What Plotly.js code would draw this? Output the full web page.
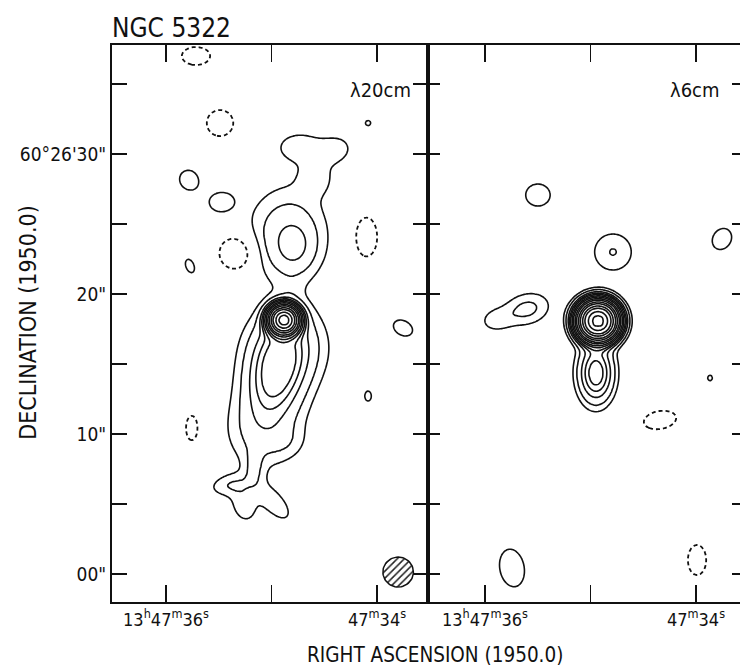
<!DOCTYPE html>
<html>
<head>
<meta charset="utf-8">
<script src="https://cdn.plot.ly/plotly-3.0.1.min.js"></script>
<style>
  html, body { margin: 0; padding: 0; background: #fff; overflow: hidden; }
  #map { width: 760px; height: 668px; }
</style>
</head>
<body>
<div id="map"></div>
<script>
// NGC 5322 radio continuum maps at 20 cm and 6 cm.
// Each map is described by a set of elliptical Gaussian components
// (RA in seconds of 13h47m, Dec in arcsec offset from 60°26'00",
//  sizes in arcsec, position angle in degrees, peak in units of the lowest contour).

const CONTOUR_LEVELS = [1, 2, 4, 6, 8, 12, 16, 24, 32, 48, 64, 96, 128, 192, 256];
const NEGATIVE_LEVEL = 1;

// lambda 20 cm: core, jet, southern tail with its fork, northern lobe with its hook,
// then faint positive and negative patches
const L20_RA   = [34.882, 34.948, 34.995, 35.090, 35.166, 35.393, 35.261, 34.976, 34.863, 34.815, 34.853,
                  34.844, 34.787, 34.730, 34.389, 34.578,
                  35.782, 35.479, 35.773, 33.754, 34.085, 34.085,
                  35.716, 35.488, 35.327, 34.104, 35.754];
const L20_DEC  = [18.14, 14.57, 12.43, 10.14, 7.57, 6.36, 4.93, 5.07, 16.36, 20.29, 9.43,
                  24.20, 23.36, 30.50, 30.29, 28.29,
                  28.14, 26.57, 22.00, 17.57, 32.21, 12.71,
                  37.00, 32.21, 22.93, 24.07, 10.43];
const L20_SMAJ = [0.57, 2.10, 3.00, 1.60, 0.90, 1.05, 0.95, 1.25, 1.80, 0.60, 0.90,
                  2.20, 1.15, 1.30, 0.90, 0.90,
                  0.79, 0.86, 0.55, 0.79, 0.20, 0.39,
                  1.10, 1.03, 1.00, 1.59, 1.03];
const L20_SMIN = [0.57, 1.15, 2.10, 1.50, 0.50, 0.55, 0.65, 0.58, 1.80, 0.50, 0.80,
                  1.80, 0.90, 0.85, 0.75, 0.90,
                  0.71, 0.71, 0.32, 0.57, 0.20, 0.25,
                  0.71, 1.03, 1.00, 0.87, 0.48];
const L20_PA   = [0, 13, 13, 15, 0, 80, -15, -42, 10, 0, 80,
                  0, 0, 90, 70, 0,
                  -30, 80, -20, -60, 0, 0,
                  90, 0, 0, 0, 0];
const L20_PEAK = [150, 9, 1.4, 1.7, 1.6, 1.7, 1.7, 1.7, 3.0, 0.45, 0.7,
                  3.2, 2.4, 1.6, 1.45, 1.4,
                  1.5, 1.5, 1.5, 1.5, 1.5, 1.5,
                  -1.5, -1.5, -2.3, -1.5, -1.5];

// lambda 6 cm
const L6_RA   = [34.929, 34.948, 35.498, 34.787, 35.602, 35.896, 33.754, 33.867, 35.744, 34.341, 33.990];
const L6_DEC  = [18.07, 14.36, 27.07, 23.00, 18.93, 18.14, 23.93, 14.00, 0.43, 11.00, 1.00];
const L6_SMAJ = [0.71, 1.29, 0.95, 1.07, 1.15, 0.80, 0.87, 0.21, 1.50, 1.27, 1.19];
const L6_SMIN = [0.71, 0.75, 0.87, 1.07, 0.80, 0.60, 0.71, 0.18, 0.95, 0.71, 0.71];
const L6_PA   = [0, 0, 90, 0, 75, 80, 30, 0, -10, 80, 0];
const L6_PEAK = [300, 10, 1.5, 2.05, 2.4, 1.5, 1.5, 1.5, 1.5, -1.5, -1.5];

// restoring beam of the 20 cm map
const BEAM_RA = 33.80, BEAM_DEC = 0.14, BEAM_RADIUS = 1.07;

// axis ranges (RA increases to the left)
const RA_RANGE_20 = [36.512, 33.517];
const RA_RANGE_6  = [36.540, 33.545];
const DEC_RANGE   = [-2.0, 37.786];

const RA_TICKS       = [36, 34];
const RA_LABELS      = ['13<sup>h</sup>47<sup>m</sup>36<sup>s</sup>', '47<sup>m</sup>34<sup>s</sup>'];
const RA_MINOR_TICKS = [35];
const DEC_TICKS       = [0, 10, 20, 30];
const DEC_LABELS      = ['00"', '10"', '20"', '60°26\'30"'];
const DEC_MINOR_TICKS = [5, 15, 25, 35];

const RA_SCALE = 15 * Math.cos(60.44 * Math.PI / 180); // arcsec per second of RA

function makeField(ras, decs, smaj, smin, pa, peak, raRange, nx, ny) {
  const xs = [], ys = [], z = [];
  for (let i = 0; i < nx; i++) xs.push(raRange[0] + (raRange[1] - raRange[0]) * i / (nx - 1));
  for (let j = 0; j < ny; j++) ys.push(DEC_RANGE[0] + (DEC_RANGE[1] - DEC_RANGE[0]) * j / (ny - 1));
  const comps = ras.map((r, k) => {
    const t = pa[k] * Math.PI / 180;
    return {r, d: decs[k], a2: smaj[k] * smaj[k], b2: smin[k] * smin[k],
            s: Math.sin(t), c: Math.cos(t), p: peak[k]};
  });
  for (let j = 0; j < ny; j++) {
    const row = [];
    for (let i = 0; i < nx; i++) {
      let v = 0;
      for (const q of comps) {
        const dX = -(xs[i] - q.r) * RA_SCALE;
        const dY = ys[j] - q.d;
        const u = dX * q.s + dY * q.c;
        const w = dX * q.c - dY * q.s;
        const e = 0.5 * (u * u / q.a2 + w * w / q.b2);
        if (e < 30) v += q.p * Math.exp(-e);
      }
      row.push(v);
    }
    z.push(row);
  }
  return {xs, ys, z};
}

// maps a brightness onto the index of the contour list, so one trace draws every level
function levelIndex(v) {
  const L = CONTOUR_LEVELS;
  if (v <= L[0]) return v / L[0];
  for (let k = 0; k < L.length - 1; k++) {
    if (v < L[k + 1]) return k + 1 + (v - L[k]) / (L[k + 1] - L[k]);
  }
  return L.length + (v - L[L.length - 1]) / L[L.length - 1];
}

function contourTraces(f, xa, ya) {
  const pos = f.z.map(r => r.map(levelIndex));
  const neg = f.z.map(r => r.map(v => -v / NEGATIVE_LEVEL));
  return [
    {type: 'contour', x: f.xs, y: f.ys, z: pos, xaxis: xa, yaxis: ya,
     contours: {coloring: 'none', start: 1, end: CONTOUR_LEVELS.length, size: 1},
     line: {color: '#111', width: 1.6, smoothing: 1}, showscale: false, hoverinfo: 'skip'},
    {type: 'contour', x: f.xs, y: f.ys, z: neg, xaxis: xa, yaxis: ya,
     contours: {coloring: 'none', start: 1, end: 1.5, size: 1},
     line: {color: '#111', width: 1.8, dash: '4px,3px', smoothing: 1}, showscale: false, hoverinfo: 'skip'}
  ];
}

const f20 = makeField(L20_RA, L20_DEC, L20_SMAJ, L20_SMIN, L20_PA, L20_PEAK, RA_RANGE_20, 211, 372);
const f6  = makeField(L6_RA, L6_DEC, L6_SMAJ, L6_SMIN, L6_PA, L6_PEAK, RA_RANGE_6, 211, 372);

// beam outline
const beamX = [], beamY = [];
for (let k = 0; k <= 60; k++) {
  const t = 2 * Math.PI * k / 60;
  beamX.push(BEAM_RA - BEAM_RADIUS * Math.cos(t) / RA_SCALE);
  beamY.push(BEAM_DEC + BEAM_RADIUS * Math.sin(t));
}

const traces = [
  ...contourTraces(f20, 'x', 'y'),
  ...contourTraces(f6, 'x2', 'y2'),
  {type: 'scatter', mode: 'lines', x: beamX, y: beamY, xaxis: 'x', yaxis: 'y',
   fill: 'toself', fillcolor: '#fff',
   fillpattern: {shape: '/', fgcolor: '#222', bgcolor: '#fff', size: 5, solidity: 0.3},
   line: {color: '#111', width: 1.5}, hoverinfo: 'skip', showlegend: false}
];

const FONT = 'DejaVu Sans Condensed, Liberation Sans Narrow, DejaVu Sans, sans-serif';

const xCommon = {
  tickvals: RA_TICKS, ticktext: RA_LABELS, ticks: 'inside', ticklen: 17, tickwidth: 1.6,
  tickcolor: '#111', showline: true, linewidth: 2, linecolor: '#111', mirror: 'ticks',
  minor: {tickvals: RA_MINOR_TICKS, ticks: 'inside', ticklen: 17, tickwidth: 1.6, tickcolor: '#111'},
  showgrid: false, zeroline: false, tickfont: {family: FONT, size: 18, color: '#111'}
};
const yCommon = {
  range: DEC_RANGE, tickvals: DEC_TICKS, ticks: 'inside', tickwidth: 1.6,
  tickcolor: '#111', showline: true, linewidth: 2, linecolor: '#111', mirror: 'ticks',
  showgrid: false, zeroline: false, tickfont: {family: FONT, size: 19, color: '#111'}
};

const layout = {
  width: 760, height: 668,
  margin: {l: 112, r: 16, t: 45, b: 66},
  paper_bgcolor: '#fff', plot_bgcolor: '#fff',
  showlegend: false,
  title: {text: 'NGC 5322', font: {family: FONT, size: 26, color: '#111'},
          xref: 'paper', x: 0, xanchor: 'left', yref: 'container', y: 0.958, yanchor: 'middle'},
  xaxis: Object.assign({}, xCommon, {domain: [0, 0.5], range: RA_RANGE_20, anchor: 'y'}),
  xaxis2: Object.assign({}, xCommon, {domain: [0.5, 1], range: RA_RANGE_6, anchor: 'y2'}),
  yaxis: Object.assign({}, yCommon, {anchor: 'x', ticktext: DEC_LABELS, ticklen: 15,
    minor: {tickvals: DEC_MINOR_TICKS, ticks: 'inside', ticklen: 15, tickwidth: 1.6, tickcolor: '#111'}}),
  yaxis2: Object.assign({}, yCommon, {anchor: 'x2', showticklabels: false, ticklen: 12,
    minor: {tickvals: DEC_MINOR_TICKS, ticks: 'inside', ticklen: 12, tickwidth: 1.6, tickcolor: '#111'}}),
  annotations: [
    {text: 'λ20cm', xref: 'x domain', yref: 'y domain', x: 0.9525, y: 0.919,
     xanchor: 'right', yanchor: 'middle', showarrow: false, font: {family: FONT, size: 20, color: '#111'}},
    {text: 'λ6cm', xref: 'x2 domain', yref: 'y2 domain', x: 0.930, y: 0.919,
     xanchor: 'right', yanchor: 'middle', showarrow: false, font: {family: FONT, size: 20, color: '#111'}},
    {text: 'RIGHT ASCENSION (1950.0)', xref: 'paper', yref: 'paper', x: 0.511, y: -0.095,
     xanchor: 'center', yanchor: 'middle', showarrow: false, font: {family: FONT, size: 20.5, color: '#111'}},
    {text: 'DECLINATION (1950.0)', xref: 'paper', yref: 'paper', x: -0.133, y: 0.503, textangle: -90,
     xanchor: 'center', yanchor: 'middle', showarrow: false, font: {family: FONT, size: 23, color: '#111'}}
  ]
};

Plotly.newPlot('map', traces, layout, {staticPlot: true, displayModeBar: false});
</script>
</body>
</html>
